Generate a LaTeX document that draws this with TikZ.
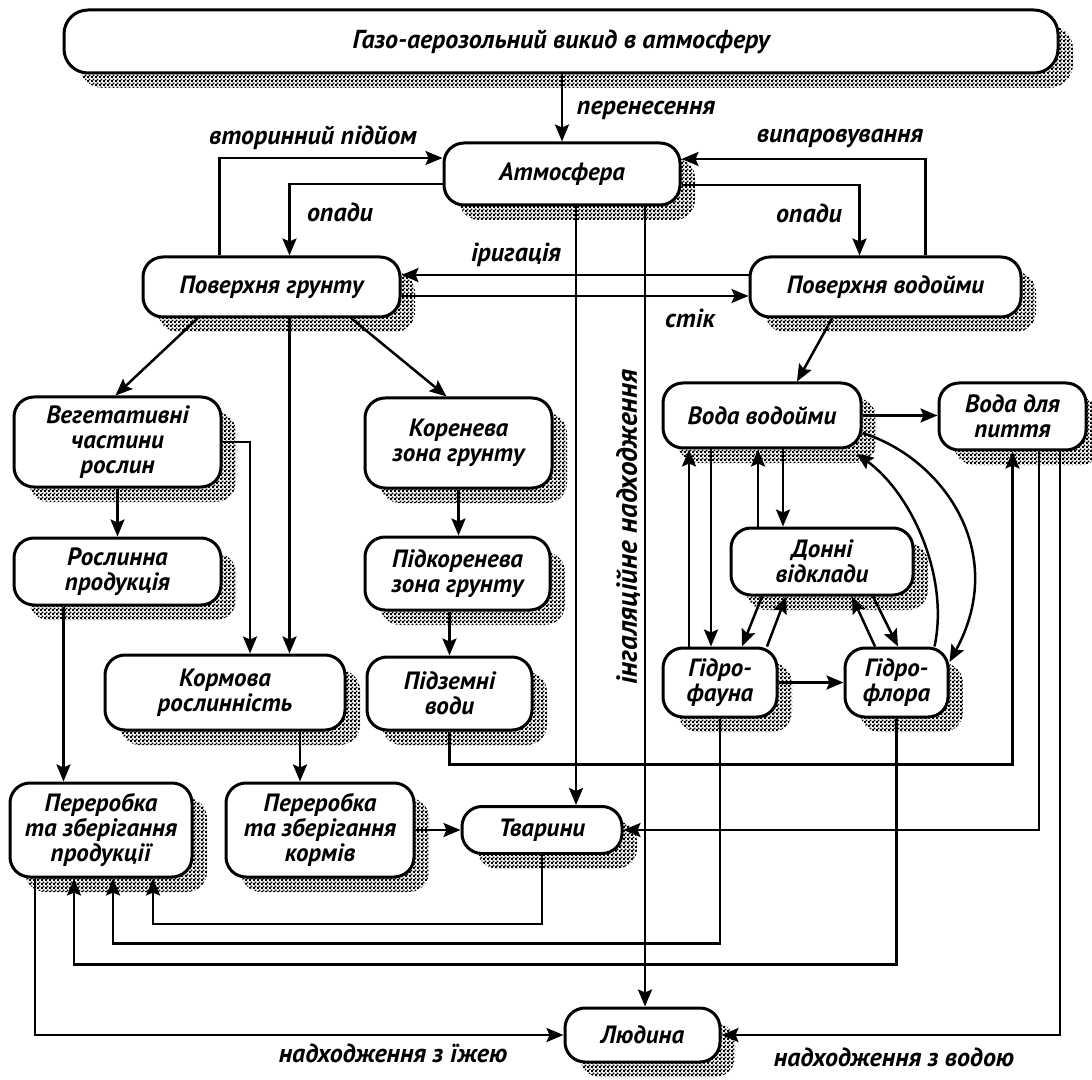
\documentclass[tikz,border=0pt]{standalone}
\usepackage{fontspec}
\setmainfont{PT Sans}
\usetikzlibrary{arrows.meta,shadows,patterns.meta,positioning}

\tikzdeclarepattern{
  name=stipple,
  type=uncolored,
  bottom left={(0pt,0pt)},
  top right={(1.8pt,1.8pt)},
  tile size={(1.8pt,1.8pt)},
  code={
    \pgfpathrectangle{\pgfpoint{0pt}{0pt}}{\pgfpoint{1pt}{1pt}}
    \pgfpathrectangle{\pgfpoint{0.9pt}{0.9pt}}{\pgfpoint{1pt}{1pt}}
    \pgfusepath{fill}
  }
}

\begin{document}
\begin{tikzpicture}[
    x=0.5pt, y=-0.5pt,
    txt/.style={font=\fontsize{13}{13}\selectfont\bfseries\itshape},
    box/.style={font=\fontsize{12.5}{12.6}\selectfont\bfseries\itshape, draw, line width=1.5pt, fill=white, rounded corners=10pt, align=center, inner sep=2pt,
        general shadow={shadow xshift=7.5pt, shadow yshift=-7.5pt, pattern=stipple, pattern color=black}},
    lab/.style={txt, inner sep=0pt},
    arr/.style={line width=1.25pt, -{Stealth[length=8.5pt, width=7pt, inset=1.5pt]}}
]
\fill[white] (0,0) rectangle (1092,1080);
\useasboundingbox (0,0) rectangle (1092,1080);

% boxes
\node[box, font=\fontsize{13}{13}\selectfont\bfseries\itshape, rounded corners=12pt, minimum width=497pt, minimum height=31.5pt] (emis) at (561,41.5) {Газо-аерозольний викид в атмосферу};
\node[box, minimum width=118pt, minimum height=31pt] (atm) at (562,174) {Атмосфера};
\node[box, minimum width=128.5pt, minimum height=30pt] (soil) at (271.5,287) {Поверхня грунту};
\node[box, minimum width=135.5pt, minimum height=30pt] (wsurf) at (885.5,287) {Поверхня водойми};
\node[box, minimum width=103.5pt, minimum height=45pt] (veg) at (117.5,442) {Вегетативні\\частини\\рослин};
\node[box, minimum width=103.5pt, minimum height=33.5pt] (plprod) at (117.5,571.5) {Рослинна\\продукція};
\node[box, minimum width=93.5pt, minimum height=45pt] (root) at (458.5,443) {Коренева\\зона грунту};
\node[box, minimum width=92.5pt, minimum height=36.5pt] (subroot) at (457.5,573.5) {Підкоренева\\зона грунту};
\node[box, minimum width=82.5pt, minimum height=36.5pt] (ground) at (449.5,693.5) {Підземні\\води};
\node[box, minimum width=120pt, minimum height=37.5pt] (fodder) at (225,692.5) {Кормова\\рослинність};
\node[box, minimum width=91pt, minimum height=47pt] (procprod) at (101,830) {Переробка\\та зберігання\\продукції};
\node[box, minimum width=94pt, minimum height=47pt] (procfeed) at (320,830) {Переробка\\та зберігання\\кормів};
\node[box, minimum width=80pt, minimum height=23.5pt] (animals) at (542,830) {Тварини};
\node[box, minimum width=77.5pt, minimum height=27pt] (human) at (642.5,1035) {Людина};
\node[box, minimum width=99pt, minimum height=32.5pt] (wbody) at (762,415.5) {Вода водойми};
\node[box, minimum width=73.5pt, minimum height=33.5pt] (drink) at (1012.5,416.5) {Вода для\\пиття};
\node[box, minimum width=91pt, minimum height=33.5pt] (sed) at (822,561.5) {Донні\\відклади};
\node[box, minimum width=57pt, minimum height=34.5pt] (hfauna) at (720,682.5) {Гідро-\\фауна};
\node[box, minimum width=51.5pt, minimum height=34.5pt] (hflora) at (896.5,682.5) {Гідро-\\флора};

% labels
\node[lab] (lcarry) at (646,110) {перенесення};
\node[lab] (lsec) at (313,138) {вторинний підйом};
\node[lab] (lprecl) at (340,212) {опади};
\node[lab] (levap) at (840,138) {випаровування};
\node[lab] (lprecr) at (809,213) {опади};
\node[lab] (lirr) at (516,255) {іригація};
\node[lab] (lrun) at (690,318) {стік};
\node[lab, font=\fontsize{14.5}{14.5}\selectfont\bfseries\itshape, rotate=90] (linh) at (628,527) {інгаляційне надходження};
\node[lab] (lfood) at (393,1053) {надходження з їжею};
\node[lab] (lwater) at (894,1057) {надходження з водою};

% atmosphere
\draw[arr] (emis.south -| atm.north) -- (atm.north);
\draw[arr] ([xshift=-26pt]soil.north) |- ([yshift=8pt]atm.west);
\draw[arr] ([yshift=-5pt]atm.west) -| ([xshift=9pt]soil.north);
\draw[arr] ([xshift=20pt]wsurf.north) |- ([yshift=7.5pt]atm.east);
\draw[arr] ([yshift=-5.5pt]atm.east) -| ([xshift=-13pt]wsurf.north);
\draw[arr] ([yshift=6pt]wsurf.west) -- ([yshift=6pt]soil.east);
\draw[arr] ([yshift=-4.5pt]soil.east) -- ([yshift=-4.5pt]wsurf.west);
\draw[arr] ([xshift=7pt]atm.south) -- ([xshift=7pt]atm.south |- animals.north);
\draw[arr] ([xshift=41.5pt]atm.south) -- ([xshift=41.5pt]atm.south |- human.north);

% soil and plants
\draw[arr] ([xshift=-37pt]soil.south) -- ([xshift=-1pt]veg.north);
\draw[arr] ([xshift=40pt]soil.south) -- ([xshift=-6pt]root.north);
\draw[arr] ([xshift=9pt]soil.south) -- ([xshift=9pt]soil.south |- fodder.north);
\draw[arr] (veg.east) -| ([xshift=12.5pt]fodder.north);
\draw[arr] (veg.south) -- (plprod.north);
\draw[arr] ([xshift=-27pt]plprod.south) -- ([xshift=-27pt]plprod.south |- procprod.north);
\draw[arr] ([xshift=37.5pt]fodder.south) -- ([xshift=37.5pt]fodder.south |- procfeed.north);
\draw[arr] (procfeed.east) -- (animals.west);
\draw[arr] (root.south) -- (root.south |- subroot.north);
\draw[arr] (ground.north |- subroot.south) -- (ground.north);
\draw[arr] (ground.south) -- ++(0,33) -| (drink.south);

% food chain
\draw[arr] ([xshift=-33pt]procprod.south) |- (human.west);
\draw[arr] (animals.south) -- ++(0,69) -| ([xshift=26pt]procprod.south);
\draw[arr] (hfauna.south) -- ++(0,225) -| ([xshift=6pt]procprod.south);
\draw[arr] (hflora.south) -- ++(0,246) -| ([xshift=-13.5pt]procprod.south);
\draw[arr] ([xshift=13.25pt]drink.south) |- (animals.east);
\draw[arr] ([xshift=23.75pt]drink.south) |- (human.east);

% water body
\draw[arr] ([xshift=-26.75pt]wsurf.south) -- ([xshift=17.5pt]wbody.north);
\draw[arr] (wbody.east) -- (wbody.east -| drink.west);
\draw[arr] ([xshift=-15.5pt]hfauna.north) -- ([xshift=-15.5pt]hfauna.north |- wbody.south);
\draw[arr] ([xshift=-4.5pt]hfauna.north |- wbody.south) -- ([xshift=-4.5pt]hfauna.north);
\draw[arr] ([xshift=-32pt]sed.north) -- ([xshift=-32pt]sed.north |- wbody.south);
\draw[arr] ([xshift=-19.5pt]sed.north |- wbody.south) -- ([xshift=-19.5pt]sed.north);
\draw[arr] ([xshift=-30pt]sed.south) -- ([xshift=11pt]hfauna.north);
\draw[arr] ([xshift=23.5pt]hfauna.north) -- ([xshift=-18pt]sed.south);
\draw[arr] ([xshift=-10.75pt]hflora.north) -- ([xshift=15pt]sed.south);
\draw[arr] ([xshift=25.5pt]sed.south) -- ([xshift=0.75pt]hflora.north);
\draw[arr] (hfauna.east) -- (hflora.west);
\draw[arr] ([xshift=19pt]hflora.north) .. controls +(15,-70) and +(55,40) .. ([xshift=-3pt,yshift=-2pt]wbody.south east);
\draw[arr] ([yshift=-8.75pt]wbody.east) .. controls +(80,25) and +(60,-110) .. ([yshift=10.25pt]hflora.east);

\end{tikzpicture}
\end{document}
